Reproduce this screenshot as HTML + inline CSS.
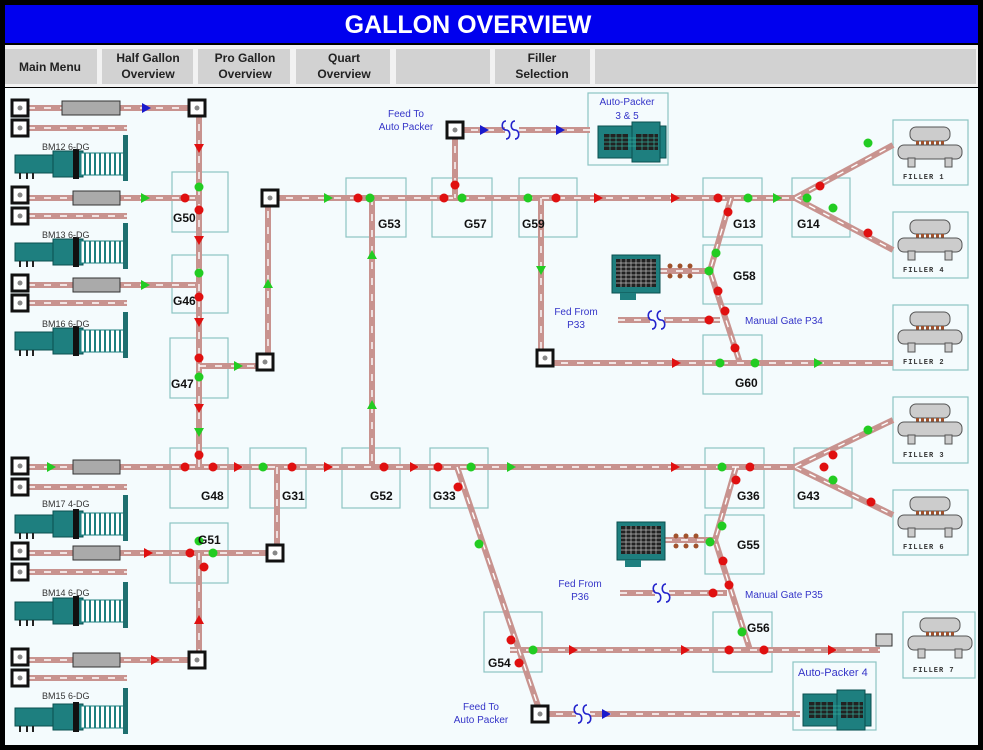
<!DOCTYPE html>
<html><head><meta charset="utf-8"><style>
html,body{margin:0;padding:0;background:#000;}
svg{display:block}
.g{font:bold 12px "Liberation Sans",sans-serif;fill:#111}
.b{font:10px "Liberation Sans",sans-serif;fill:#3434c8}
.m{font:9px "Liberation Sans",sans-serif;fill:#333}
.f{font:bold 7px "Liberation Mono",monospace;fill:#333;letter-spacing:1px}
.n{font:bold 12px "Liberation Sans",sans-serif;fill:#222}
</style></head><body>
<svg width="983" height="750" viewBox="0 0 983 750" xmlns="http://www.w3.org/2000/svg">
<defs>
<g id="pipes" fill="none">
<path d="M28 108H197M28 128H127M199 108V467M28 198H199M28 216H127M28 285H199M28 303H127M199 366H265M268 362V198M270 198H795M795 198L893 145M795 198L893 250M455 130H590M455 130V198M372 198V467M541 198V358M545 363H893M731 198L710 271L740 363M660 271H710M618 320H720M28 467H795M795 467L893 420M795 467L893 515M28 487H127M28 553H275M277 467V553M28 572H127M199 553V660M28 660H197M28 678H127M457 467L540 712M540 714H800M510 650H880M736 467L715 540L750 650M665 540H715M620 593H727"/>
</g>
<g id="sb"><rect x="-8" y="-8" width="16" height="16" fill="#fff" stroke="#111" stroke-width="3"/><circle r="2.5" fill="#888"/></g>
<g id="mach">
<rect x="0" y="10" width="40" height="18" fill="#1e7f7f" stroke="#0a4f4f"/>
<rect x="38" y="6" width="30" height="26" fill="#1e7f7f" stroke="#0a4f4f"/>
<rect x="58" y="4" width="6" height="30" fill="#111"/>
<rect x="66" y="8" width="44" height="22" fill="#fff" stroke="#1e7f7f"/>
<path d="M70 8V30M75 8V30M80 8V30M85 8V30M90 8V30M95 8V30M100 8V30M105 8V30" stroke="#1e7f7f" stroke-width="2"/>
<rect x="108" y="-10" width="5" height="46" fill="#1e6f6f"/>
<path d="M5 28v6M12 28v6M18 28v6" stroke="#222" stroke-width="2"/>
</g>
<g id="fil">
<rect x="12" y="2" width="40" height="14" rx="6" fill="#ccc" stroke="#555"/>
<path d="M18 18h28" stroke="#a0522d" stroke-width="4" stroke-dasharray="3 2"/>
<rect x="0" y="20" width="64" height="14" rx="6" fill="#ccc" stroke="#555"/>
<rect x="10" y="33" width="7" height="9" fill="#ccc" stroke="#555"/>
<rect x="47" y="33" width="7" height="9" fill="#ccc" stroke="#555"/>
</g>
<g id="pk">
<rect x="0" y="4" width="68" height="32" fill="#1e7f7f" stroke="#0a4f4f"/>
<rect x="34" y="0" width="28" height="40" fill="#1e7f7f" stroke="#0a4f4f"/>
<rect x="6" y="12" width="24" height="16" fill="#222"/><rect x="38" y="12" width="22" height="16" fill="#222"/>
<path d="M6 16h54M6 20h54M6 24h54M12 12v16M18 12v16M24 12v16M44 12v16M50 12v16M56 12v16" stroke="#3a9" stroke-width=".7"/>
</g>
<g id="pk2">
<rect x="0" y="0" width="48" height="38" fill="#1e7f7f" stroke="#0a4f4f"/>
<rect x="4" y="4" width="40" height="28" fill="#222"/>
<path d="M4 8h40M4 12h40M4 16h40M4 20h40M4 24h40M4 28h40M9 4v28M14 4v28M19 4v28M24 4v28M29 4v28M34 4v28M39 4v28" stroke="#bbb" stroke-width=".7"/>
<rect x="8" y="38" width="16" height="7" fill="#1e7f7f"/>
</g>
<g id="wv" fill="none" stroke="#2222cc" stroke-width="1.6"><path d="M-8 -9c-5 0-5 9 0 9s5 9 0 9M1 -9c-5 0-5 9 0 9s5 9 0 9"/></g>
<polygon id="ar" points="-4,-5 5,0 -4,5" />
<polygon id="ad" points="-5,-4 0,5 5,-4"/>
<polygon id="au" points="-5,4 0,-5 5,4"/>
</defs>
<rect x="0" y="0" width="983" height="750" fill="#000"/>
<rect x="5" y="5" width="973" height="38" fill="#0000ee"/>
<text x="468" y="33" text-anchor="middle" style="font:bold 25px 'Liberation Sans',sans-serif" fill="#fff">GALLON OVERVIEW</text>
<rect x="5" y="45" width="973" height="42" fill="#f2f2f2"/>
<g fill="#d2d2d2">
<rect x="5" y="49" width="92" height="35"/><rect x="102" y="49" width="91" height="35"/><rect x="198" y="49" width="92" height="35"/><rect x="296" y="49" width="94" height="35"/><rect x="396" y="49" width="94" height="35"/><rect x="495" y="49" width="95" height="35"/><rect x="595" y="49" width="381" height="35"/>
</g>
<g class="n" text-anchor="middle">
<text x="50" y="71">Main Menu</text>
<text x="148" y="62">Half Gallon</text><text x="148" y="78">Overview</text>
<text x="245" y="62">Pro Gallon</text><text x="245" y="78">Overview</text>
<text x="344" y="62">Quart</text><text x="344" y="78">Overview</text>
<text x="542" y="62">Filler</text><text x="542" y="78">Selection</text>
</g>
<rect x="5" y="88" width="973" height="657" fill="#f4fbfd"/>
<g fill="none" stroke="#8cc4c4" stroke-width="1.2">
<rect x="172" y="172" width="56" height="60"/><rect x="172" y="255" width="56" height="58"/><rect x="170" y="338" width="58" height="60"/>
<rect x="170" y="448" width="58" height="60"/><rect x="250" y="448" width="56" height="60"/><rect x="342" y="448" width="58" height="60"/><rect x="430" y="448" width="58" height="60"/>
<rect x="170" y="523" width="58" height="60"/><rect x="346" y="178" width="60" height="59"/><rect x="432" y="178" width="60" height="59"/><rect x="519" y="178" width="58" height="59"/>
<rect x="703" y="178" width="59" height="59"/><rect x="792" y="178" width="58" height="59"/><rect x="703" y="245" width="59" height="59"/><rect x="703" y="335" width="59" height="59"/>
<rect x="705" y="448" width="59" height="60"/><rect x="794" y="448" width="58" height="60"/><rect x="705" y="515" width="59" height="59"/><rect x="713" y="612" width="59" height="60"/><rect x="484" y="612" width="58" height="60"/>
<rect x="588" y="93" width="80" height="72"/><rect x="793" y="662" width="83" height="68"/>
<rect x="893" y="120" width="75" height="65"/><rect x="893" y="212" width="75" height="66"/><rect x="893" y="305" width="75" height="65"/><rect x="893" y="397" width="75" height="66"/><rect x="893" y="490" width="75" height="65"/><rect x="903" y="612" width="72" height="66"/>
</g>
<use href="#pipes" stroke="#c8938f" stroke-width="6"/>
<use href="#pipes" stroke="#fff" stroke-width="1.4" stroke-dasharray="7 9"/>
<g fill="#aaa" stroke="#333"><rect x="62" y="101" width="58" height="14"/><rect x="73" y="191" width="47" height="14"/><rect x="73" y="278" width="47" height="14"/><rect x="73" y="460" width="47" height="14"/><rect x="73" y="546" width="47" height="14"/><rect x="73" y="653" width="47" height="14"/></g>
<use href="#sb" x="20" y="108"/><use href="#sb" x="20" y="128"/><use href="#sb" x="20" y="195"/><use href="#sb" x="20" y="216"/><use href="#sb" x="20" y="283"/><use href="#sb" x="20" y="303"/><use href="#sb" x="20" y="466"/><use href="#sb" x="20" y="487"/><use href="#sb" x="20" y="551"/><use href="#sb" x="20" y="572"/><use href="#sb" x="20" y="657"/><use href="#sb" x="20" y="678"/>
<use href="#sb" x="197" y="108"/><use href="#sb" x="265" y="362"/><use href="#sb" x="270" y="198"/><use href="#sb" x="455" y="130"/><use href="#sb" x="545" y="358"/><use href="#sb" x="275" y="553"/><use href="#sb" x="197" y="660"/><use href="#sb" x="540" y="714"/>
<use href="#mach" x="15" y="145"/><use href="#mach" x="15" y="233"/><use href="#mach" x="15" y="322"/><use href="#mach" x="15" y="505"/><use href="#mach" x="15" y="592"/><use href="#mach" x="15" y="698"/>
<g class="m"><text x="42" y="150">BM12 6-DG</text><text x="42" y="238">BM13 6-DG</text><text x="42" y="327">BM16 6-DG</text><text x="42" y="507">BM17 4-DG</text><text x="42" y="596">BM14 6-DG</text><text x="42" y="699">BM15 6-DG</text></g>
<use href="#pk" x="598" y="122"/><use href="#pk" x="803" y="690"/>
<use href="#pk2" x="612" y="255"/><use href="#pk2" x="617" y="522"/>
<g fill="#a0522d"><circle cx="670" cy="266" r="2.5"/><circle cx="680" cy="266" r="2.5"/><circle cx="690" cy="266" r="2.5"/><circle cx="670" cy="276" r="2.5"/><circle cx="680" cy="276" r="2.5"/><circle cx="690" cy="276" r="2.5"/><circle cx="676" cy="536" r="2.5"/><circle cx="686" cy="536" r="2.5"/><circle cx="696" cy="536" r="2.5"/><circle cx="676" cy="546" r="2.5"/><circle cx="686" cy="546" r="2.5"/><circle cx="696" cy="546" r="2.5"/></g>
<use href="#fil" x="898" y="125"/><use href="#fil" x="898" y="218"/><use href="#fil" x="898" y="310"/><use href="#fil" x="898" y="402"/><use href="#fil" x="898" y="495"/><use href="#fil" x="908" y="616"/>
<rect x="876" y="634" width="16" height="12" fill="#ccc" stroke="#333"/>
<g class="f"><text x="903" y="179">FILLER 1</text><text x="903" y="272">FILLER 4</text><text x="903" y="364">FILLER 2</text><text x="903" y="457">FILLER 3</text><text x="903" y="549">FILLER 6</text><text x="913" y="672">FILLER 7</text></g>
<rect x="505" y="120" width="14" height="20" fill="#f4fbfd"/><rect x="650" y="310" width="14" height="20" fill="#f4fbfd"/><rect x="655" y="583" width="14" height="20" fill="#f4fbfd"/><rect x="576" y="704" width="14" height="20" fill="#f4fbfd"/>
<use href="#wv" x="514" y="130"/><use href="#wv" x="660" y="320"/><use href="#wv" x="665" y="593"/><use href="#wv" x="586" y="714"/>
<g fill="#1a1acc"><use href="#ar" x="146" y="108"/><use href="#ar" x="484" y="130"/><use href="#ar" x="560" y="130"/><use href="#ar" x="606" y="714"/></g>
<g fill="#e01010"><use href="#ad" x="199" y="148"/><use href="#ad" x="199" y="240"/><use href="#ad" x="199" y="322"/><use href="#ad" x="199" y="408"/><use href="#ar" x="238" y="467"/><use href="#ar" x="328" y="467"/><use href="#ar" x="414" y="467"/><use href="#ar" x="675" y="467"/><use href="#ar" x="148" y="553"/><use href="#au" x="199" y="620"/><use href="#ar" x="598" y="198"/><use href="#ar" x="675" y="198"/><use href="#ar" x="676" y="363"/><use href="#ar" x="573" y="650"/><use href="#ar" x="685" y="650"/><use href="#ar" x="832" y="650"/><use href="#ar" x="155" y="660"/></g>
<g fill="#22cc22"><use href="#ar" x="145" y="198"/><use href="#ar" x="145" y="285"/><use href="#ar" x="238" y="366"/><use href="#au" x="268" y="284"/><use href="#ar" x="328" y="198"/><use href="#au" x="372" y="255"/><use href="#au" x="372" y="405"/><use href="#ad" x="541" y="270"/><use href="#ar" x="777" y="198"/><use href="#ar" x="818" y="363"/><use href="#ar" x="511" y="467"/><use href="#ad" x="199" y="432"/><use href="#ar" x="51" y="467"/></g>
<g fill="#e01010"><circle cx="185" cy="198" r="4.5"/><circle cx="199" cy="210" r="4.5"/><circle cx="199" cy="297" r="4.5"/><circle cx="199" cy="358" r="4.5"/><circle cx="185" cy="467" r="4.5"/><circle cx="199" cy="455" r="4.5"/><circle cx="213" cy="467" r="4.5"/><circle cx="292" cy="467" r="4.5"/><circle cx="384" cy="467" r="4.5"/><circle cx="438" cy="467" r="4.5"/><circle cx="458" cy="487" r="4.5"/><circle cx="358" cy="198" r="4.5"/><circle cx="455" cy="185" r="4.5"/><circle cx="444" cy="198" r="4.5"/><circle cx="556" cy="198" r="4.5"/><circle cx="718" cy="198" r="4.5"/><circle cx="728" cy="212" r="4.5"/><circle cx="820" cy="186" r="4.5"/><circle cx="868" cy="233" r="4.5"/><circle cx="718" cy="291" r="4.5"/><circle cx="725" cy="311" r="4.5"/><circle cx="709" cy="320" r="4.5"/><circle cx="735" cy="348" r="4.5"/><circle cx="190" cy="553" r="4.5"/><circle cx="204" cy="567" r="4.5"/><circle cx="750" cy="467" r="4.5"/><circle cx="736" cy="480" r="4.5"/><circle cx="824" cy="467" r="4.5"/><circle cx="833" cy="455" r="4.5"/><circle cx="871" cy="502" r="4.5"/><circle cx="723" cy="561" r="4.5"/><circle cx="729" cy="585" r="4.5"/><circle cx="713" cy="593" r="4.5"/><circle cx="511" cy="640" r="4.5"/><circle cx="519" cy="663" r="4.5"/><circle cx="729" cy="650" r="4.5"/><circle cx="764" cy="650" r="4.5"/></g>
<g fill="#22cc22"><circle cx="199" cy="187" r="4.5"/><circle cx="199" cy="273" r="4.5"/><circle cx="199" cy="377" r="4.5"/><circle cx="370" cy="198" r="4.5"/><circle cx="462" cy="198" r="4.5"/><circle cx="528" cy="198" r="4.5"/><circle cx="748" cy="198" r="4.5"/><circle cx="807" cy="198" r="4.5"/><circle cx="833" cy="208" r="4.5"/><circle cx="716" cy="253" r="4.5"/><circle cx="709" cy="271" r="4.5"/><circle cx="720" cy="363" r="4.5"/><circle cx="755" cy="363" r="4.5"/><circle cx="263" cy="467" r="4.5"/><circle cx="471" cy="467" r="4.5"/><circle cx="479" cy="544" r="4.5"/><circle cx="722" cy="467" r="4.5"/><circle cx="833" cy="480" r="4.5"/><circle cx="722" cy="526" r="4.5"/><circle cx="710" cy="542" r="4.5"/><circle cx="742" cy="632" r="4.5"/><circle cx="533" cy="650" r="4.5"/><circle cx="213" cy="553" r="4.5"/><circle cx="199" cy="541" r="4.5"/><circle cx="868" cy="143" r="4.5"/><circle cx="868" cy="430" r="4.5"/></g>
<g class="g"><text x="173" y="222">G50</text><text x="173" y="305">G46</text><text x="171" y="388">G47</text><text x="201" y="500">G48</text><text x="282" y="500">G31</text><text x="370" y="500">G52</text><text x="433" y="500">G33</text><text x="198" y="544">G51</text><text x="378" y="228">G53</text><text x="464" y="228">G57</text><text x="522" y="228">G59</text><text x="733" y="228">G13</text><text x="797" y="228">G14</text><text x="733" y="280">G58</text><text x="735" y="387">G60</text><text x="737" y="500">G36</text><text x="797" y="500">G43</text><text x="737" y="549">G55</text><text x="747" y="632">G56</text><text x="488" y="667">G54</text></g>
<g class="b" text-anchor="middle"><text x="406" y="117">Feed To</text><text x="406" y="130">Auto Packer</text><text x="627" y="105">Auto-Packer</text><text x="627" y="119">3 &amp; 5</text><text x="576" y="315">Fed From</text><text x="576" y="328">P33</text><text x="580" y="587">Fed From</text><text x="580" y="600">P36</text><text x="481" y="710">Feed To</text><text x="481" y="723">Auto Packer</text></g>
<g class="b"><text x="745" y="324">Manual Gate P34</text><text x="745" y="598">Manual Gate P35</text><text x="798" y="676" style="font-size:11px">Auto-Packer 4</text></g>
</svg>
</body></html>
